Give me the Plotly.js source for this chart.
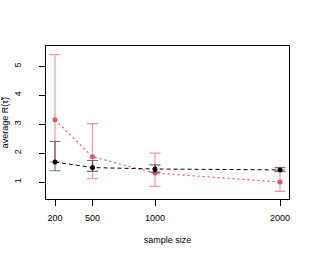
<!DOCTYPE html>
<html>
<head>
<meta charset="utf-8">
<script src="https://cdn.plot.ly/plotly-3.0.1.min.js"></script>
<style>html,body{margin:0;padding:0;background:#fff;}#chart{width:314px;height:258px;}</style>
</head>
<body>
<div id="chart"></div>
<script>
const sampleSizes = [200, 500, 1000, 2000];
const tickLabels = ["200", "500", "1000", "2000"];

const redMean  = [3.15, 1.87, 1.31, 1.00];
const redUpper = [5.40, 3.02, 2.00, 1.42];
const redLower = [1.70, 1.12, 0.85, 0.68];

const blackMean  = [1.69, 1.50, 1.45, 1.42];
const blackUpper = [2.40, 1.745, 1.59, 1.50];
const blackLower = [1.39, 1.37, 1.34, 1.365];

function errs(mean, up, lo) {
  return {
    plus: up.map((u, i) => u - mean[i]),
    minus: lo.map((l, i) => mean[i] - l)
  };
}
const re = errs(redMean, redUpper, redLower);
const be = errs(blackMean, blackUpper, blackLower);

const data = [
  {
    x: sampleSizes, y: redMean, type: 'scatter', mode: 'lines+markers',
    line: {color: '#DF536B', width: 1.2, dash: '2px,3px'},
    marker: {color: '#DF536B', size: 5},
    error_y: {type: 'data', symmetric: false, array: re.plus, arrayminus: re.minus,
              color: 'rgba(223,83,107,0.6)', thickness: 1.2, width: 5.5}
  },
  {
    x: sampleSizes, y: blackMean, type: 'scatter', mode: 'lines+markers',
    line: {color: '#000000', width: 1, dash: '4px,3px'},
    marker: {color: '#000000', size: 5},
    error_y: {type: 'data', symmetric: false, array: be.plus, arrayminus: be.minus,
              color: 'rgba(0,0,0,0.55)', thickness: 1.2, width: 5.5}
  }
];

const font = {family: 'Liberation Sans, Arial, sans-serif', size: 9, color: '#000'};

const layout = {
  width: 314, height: 258,
  margin: {l: 46, r: 25, t: 46, b: 59, pad: 0},
  paper_bgcolor: '#fff', plot_bgcolor: '#fff',
  showlegend: false,
  font: font,
  xaxis: {
    range: [128, 2072], tickmode: 'array', tickvals: sampleSizes, ticktext: tickLabels,
    showgrid: false, zeroline: false, showline: true, mirror: true,
    linecolor: '#000', linewidth: 1, ticks: 'outside', ticklen: 6, tickcolor: '#000',
    tickfont: font, ticklabelstandoff: 4,
    title: {text: 'sample size', font: font, standoff: 14}
  },
  yaxis: {
    range: [0.414, 5.70], tickmode: 'array', tickvals: [1, 2, 3, 4, 5],
    showgrid: false, zeroline: false, showline: true, mirror: true,
    linecolor: '#000', linewidth: 1, ticks: 'outside', ticklen: 6, tickcolor: '#000',
    tickfont: font, tickangle: -90, ticklabelstandoff: 14
  },
  annotations: [{
    text: 'average R(τ̃)', xref: 'paper', yref: 'paper', x: -0.17, y: 0.5,
    xanchor: 'center', yanchor: 'middle', textangle: -90, showarrow: false, font: font,
    xshift: 0
  }]
};

Plotly.newPlot('chart', data, layout, {displayModeBar: false, staticPlot: true});
</script>
</body>
</html>
